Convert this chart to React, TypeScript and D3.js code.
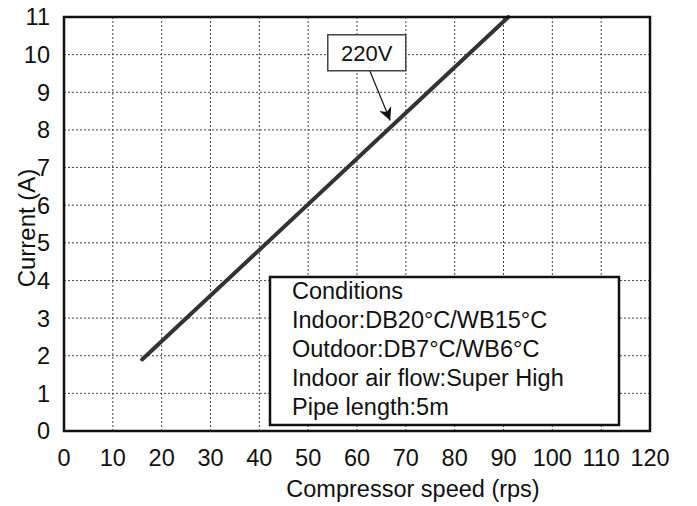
import React, { useEffect, useRef } from 'react';
import * as d3 from 'd3';

const xTicks = [0, 10, 20, 30, 40, 50, 60, 70, 80, 90, 100, 110, 120];
const yTicks = [0, 1, 2, 3, 4, 5, 6, 7, 8, 9, 10, 11];
const speed = [16, 91];
const current = [1.9, 11];
const seriesLabel = '220V';
const labelAt = [62, 10.05];
const arrowTip = [66.8, 8.25];
const conditions = [
  'Conditions',
  'Indoor:DB20°C/WB15°C',
  'Outdoor:DB7°C/WB6°C',
  'Indoor air flow:Super High',
  'Pipe length:5m',
];

const width = 697;
const height = 506;
const margin = { top: 17, right: 47, bottom: 75, left: 64 };
const font = '"Liberation Sans", Arial, sans-serif';

const App = () => {
  const svgRef = useRef<SVGSVGElement>(null);

  useEffect(() => {
    const svg = d3.select(svgRef.current);
    svg.selectAll('*').remove();

    const x = d3.scaleLinear().domain([0, 120]).range([margin.left, width - margin.right]);
    const y = d3.scaleLinear().domain([0, 11]).range([height - margin.bottom, margin.top]);

    svg.append('defs').append('marker')
      .attr('id', 'arrow')
      .attr('viewBox', '0 0 10 10')
      .attr('refX', 10)
      .attr('refY', 5)
      .attr('markerWidth', 13)
      .attr('markerHeight', 13)
      .attr('markerUnits', 'userSpaceOnUse')
      .attr('orient', 'auto')
      .append('path')
      .attr('d', 'M0,0 L10,5 L0,10 L3,5 Z')
      .attr('fill', '#111');

    // grid
    const grid = svg.append('g')
      .attr('stroke', '#444')
      .attr('stroke-width', 1)
      .attr('stroke-dasharray', '2,2');
    grid.selectAll('.gx')
      .data(xTicks.slice(1, -1))
      .enter().append('line')
      .attr('x1', d => x(d)).attr('x2', d => x(d))
      .attr('y1', y(0)).attr('y2', y(11));
    grid.selectAll('.gy')
      .data(yTicks.slice(1, -1))
      .enter().append('line')
      .attr('x1', x(0)).attr('x2', x(120))
      .attr('y1', d => y(d)).attr('y2', d => y(d));

    // data line
    const line = d3.line<number>()
      .x((_, i) => x(speed[i]))
      .y(d => y(d));
    svg.append('path')
      .datum(current)
      .attr('fill', 'none')
      .attr('stroke', '#333')
      .attr('stroke-width', 4)
      .attr('stroke-linecap', 'round')
      .attr('d', line);

    // frame
    svg.append('rect')
      .attr('x', x(0)).attr('y', y(11))
      .attr('width', x(120) - x(0)).attr('height', y(0) - y(11))
      .attr('fill', 'none')
      .attr('stroke', '#111')
      .attr('stroke-width', 2.5);

    // tick labels
    svg.append('g').selectAll('text')
      .data(xTicks)
      .enter().append('text')
      .attr('x', d => x(d))
      .attr('y', 466)
      .attr('text-anchor', 'middle')
      .attr('font-size', 23.5)
      .attr('font-family', font)
      .attr('fill', '#111')
      .text(d => d);
    svg.append('g').selectAll('text')
      .data(yTicks)
      .enter().append('text')
      .attr('x', 50)
      .attr('y', d => y(d))
      .attr('dy', '0.36em')
      .attr('text-anchor', 'end')
      .attr('font-size', 23.5)
      .attr('font-family', font)
      .attr('fill', '#111')
      .text(d => d);

    // axis titles
    svg.append('text')
      .attr('x', 413)
      .attr('y', 497)
      .attr('text-anchor', 'middle')
      .attr('font-size', 23.5)
      .attr('font-family', font)
      .attr('fill', '#111')
      .text('Compressor speed (rps)');
    svg.append('text')
      .attr('transform', `translate(35,228) rotate(-90)`)
      .attr('text-anchor', 'middle')
      .attr('font-size', 24)
      .attr('font-family', font)
      .attr('fill', '#111')
      .text('Current (A)');

    // 220V annotation
    const lx = x(labelAt[0]);
    const ly = y(labelAt[1]);
    svg.append('line')
      .attr('x1', lx + 3).attr('y1', ly + 18)
      .attr('x2', x(arrowTip[0])).attr('y2', y(arrowTip[1]))
      .attr('stroke', '#111')
      .attr('stroke-width', 1.2)
      .attr('marker-end', 'url(#arrow)');
    svg.append('rect')
      .attr('x', lx - 39).attr('y', ly - 18)
      .attr('width', 78).attr('height', 36)
      .attr('fill', '#fff')
      .attr('stroke', '#444')
      .attr('stroke-width', 1.5);
    svg.append('text')
      .attr('x', lx).attr('y', ly + 8)
      .attr('text-anchor', 'middle')
      .attr('font-size', 22)
      .attr('font-family', font)
      .attr('fill', '#111')
      .text(seriesLabel);

    // conditions box
    const box = svg.append('g').attr('transform', 'translate(270,277)');
    box.append('rect')
      .attr('width', 349).attr('height', 148)
      .attr('fill', '#fff')
      .attr('stroke', '#111')
      .attr('stroke-width', 2.5);
    box.selectAll('text')
      .data(conditions)
      .enter().append('text')
      .attr('x', 22)
      .attr('y', (_, i) => 22 + i * 29)
      .attr('font-size', 23.5)
      .attr('font-family', font)
      .attr('fill', '#111')
      .text(d => d);
  }, []);

  return (
    <svg
      ref={svgRef}
      width={width}
      height={height}
      style={{ position: 'absolute', left: 0, top: 0, background: '#fff' }}
    />
  );
};

export default App;
